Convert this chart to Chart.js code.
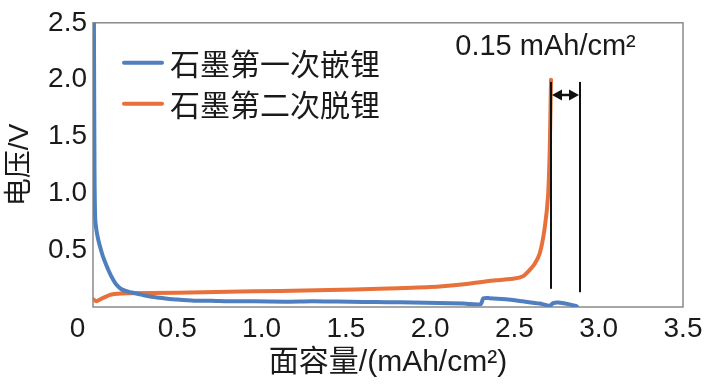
<!DOCTYPE html>
<html>
<head>
<meta charset="utf-8">
<script src="https://cdn.jsdelivr.net/npm/chart.js@4"></script>
<style>
  html, body { margin: 0; padding: 0; background: #fff; }
  canvas { display: block; }
</style>
</head>
<body>
<canvas id="chart" width="709" height="389"></canvas>
<script>
// first lithiation (blue)
const firstX = [0.005, 0.009, 0.013, 0.02, 0.03, 0.042, 0.06, 0.081, 0.105, 0.13, 0.15, 0.17, 0.2, 0.23, 0.27, 0.31, 0.37, 0.43, 0.5, 0.6, 0.7, 0.8, 0.95, 1.14, 1.3, 1.45, 1.6, 1.75, 1.9, 2.05, 2.2, 2.3, 2.315, 2.35, 2.45, 2.55, 2.65, 2.71, 2.73, 2.76, 2.82, 2.87];
const firstY = [2.7, 1.2, 0.78, 0.68, 0.6, 0.53, 0.44, 0.36, 0.28, 0.215, 0.18, 0.155, 0.14, 0.127, 0.115, 0.1, 0.085, 0.075, 0.065, 0.055, 0.055, 0.05, 0.05, 0.046, 0.05, 0.048, 0.045, 0.042, 0.04, 0.035, 0.03, 0.025, 0.075, 0.078, 0.069, 0.05, 0.03, 0.011, 0.035, 0.04, 0.025, 0.006];

// second delithiation (orange)
const secondX = [0.0, 0.02, 0.06, 0.11, 0.2, 0.5, 0.8, 1.11, 1.4, 1.7, 2.0, 2.2, 2.39, 2.5, 2.55, 2.58, 2.62, 2.65, 2.68, 2.7, 2.71, 2.717];
const secondY = [0.07, 0.05, 0.08, 0.11, 0.12, 0.125, 0.135, 0.14, 0.15, 0.16, 0.175, 0.2, 0.235, 0.25, 0.27, 0.31, 0.38, 0.47, 0.7, 0.99, 1.42, 2.0];

const seriesLabels = ["石墨第一次嵌锂", "石墨第二次脱锂"];
const seriesColors = ["#4F7FBF", "#E8703A"];

const xTicks = [0, 0.5, 1.0, 1.5, 2.0, 2.5, 3.0, 3.5];
const yTicks = [0, 0.5, 1.0, 1.5, 2.0, 2.5];

// gap marker between end of delithiation and end of lithiation
const markerX = [2.717, 2.889];
const markerTop = [1.98, 1.98];
const markerBottom = [0.16, 0.13];
const markerArrowY = 1.865;
const markerNote = "0.15 mAh/cm²";
const markerNoteY = 2.22;

const FONT_LATIN = "Liberation Sans, Arial, Noto Sans CJK SC, sans-serif";
const FONT_CJK = "Noto Sans CJK SC, sans-serif";
const TEXT_COLOR = "#1a1a1a";

const toPoints = (xs, ys) => xs.map((x, i) => ({ x: x, y: ys[i] }));

const chartAreaBorder = {
  id: "chartAreaBorder",
  beforeDatasetsDraw(chart, args, options) {
    const { ctx, chartArea: { left, top, width, height } } = chart;
    ctx.save();
    ctx.strokeStyle = options.borderColor;
    ctx.lineWidth = options.borderWidth;
    ctx.strokeRect(left, top, width, height);
    ctx.restore();
  },
};

const legendLines = {
  id: "legendLines",
  afterDraw(chart) {
    const { ctx, chartArea: { left, top } } = chart;
    ctx.save();
    chart.data.datasets.forEach((ds, i) => {
      const y = top + 40 + i * 41;
      ctx.strokeStyle = ds.borderColor;
      ctx.lineWidth = 4;
      ctx.lineCap = "round";
      ctx.beginPath();
      ctx.moveTo(left + 31, y);
      ctx.lineTo(left + 69, y);
      ctx.stroke();
      ctx.fillStyle = TEXT_COLOR;
      ctx.font = "30px " + FONT_CJK;
      ctx.textBaseline = "middle";
      ctx.textAlign = "left";
      ctx.fillText(ds.label, left + 77, y + 1);
    });
    ctx.restore();
  },
};

const gapMarker = {
  id: "gapMarker",
  afterDatasetsDraw(chart) {
    const { ctx, scales: { x, y } } = chart;
    ctx.save();
    ctx.strokeStyle = "#111";
    ctx.fillStyle = "#111";
    ctx.lineWidth = 2;
    markerX.forEach((mx, i) => {
      const px = x.getPixelForValue(mx);
      ctx.beginPath();
      ctx.moveTo(px, y.getPixelForValue(markerTop[i]));
      ctx.lineTo(px, y.getPixelForValue(markerBottom[i]));
      ctx.stroke();
    });
    const x1 = x.getPixelForValue(markerX[0]) + 1;
    const x2 = x.getPixelForValue(markerX[1]) - 1;
    const ay = y.getPixelForValue(markerArrowY);
    ctx.lineWidth = 2.5;
    ctx.beginPath();
    ctx.moveTo(x1 + 6, ay);
    ctx.lineTo(x2 - 6, ay);
    ctx.stroke();
    [[x1, 1], [x2, -1]].forEach(([hx, dir]) => {
      ctx.beginPath();
      ctx.moveTo(hx, ay);
      ctx.lineTo(hx + dir * 10, ay - 5.5);
      ctx.lineTo(hx + dir * 10, ay + 5.5);
      ctx.closePath();
      ctx.fill();
    });
    ctx.font = "29px " + FONT_LATIN;
    ctx.textAlign = "center";
    ctx.textBaseline = "alphabetic";
    ctx.fillStyle = TEXT_COLOR;
    ctx.fillText(markerNote, (x1 + x2) / 2 - 20, y.getPixelForValue(markerNoteY));
    ctx.restore();
  },
};

const fmt = (v) => (v === 0 ? "0" : v.toFixed(1));

new Chart(document.getElementById("chart"), {
  type: "line",
  data: {
    datasets: [
      {
        label: seriesLabels[0],
        data: toPoints(firstX, firstY),
        borderColor: seriesColors[0],
        backgroundColor: seriesColors[0],
        borderWidth: 4,
        pointRadius: 0,
        tension: 0.2,
        borderCapStyle: "round",
        borderJoinStyle: "round",
      },
      {
        label: seriesLabels[1],
        data: toPoints(secondX, secondY),
        borderColor: seriesColors[1],
        backgroundColor: seriesColors[1],
        borderWidth: 4,
        pointRadius: 0,
        tension: 0.2,
        borderCapStyle: "round",
        borderJoinStyle: "round",
      },
    ],
  },
  options: {
    responsive: false,
    animation: false,
    events: [],
    layout: { padding: { top: 18, right: 26, left: 0, bottom: 0 } },
    scales: {
      x: {
        type: "linear",
        min: xTicks[0],
        max: xTicks[xTicks.length - 1],
        grid: { display: false, drawTicks: false },
        border: { display: false },
        afterBuildTicks: (scale) => {
          scale.ticks = xTicks.map((v) => ({ value: v }));
        },
        afterFit: (scale) => {
          scale.height = 82;
        },
        ticks: {
          padding: 5,
          color: TEXT_COLOR,
          font: { size: 28, family: FONT_LATIN },
          maxRotation: 0,
          callback: (v) => (v === 0 ? "0    " : fmt(v)),
        },
        title: {
          display: true,
          text: "面容量/(mAh/cm²)",
          color: TEXT_COLOR,
          font: { size: 30, family: FONT_LATIN },
          padding: { top: 0, bottom: 8 },
        },
      },
      y: {
        type: "linear",
        min: yTicks[0],
        max: yTicks[yTicks.length - 1],
        grid: { display: false, drawTicks: false },
        border: { display: false },
        afterBuildTicks: (scale) => {
          scale.ticks = yTicks.map((v) => ({ value: v }));
        },
        afterFit: (scale) => {
          scale.width = 93;
        },
        ticks: {
          padding: 6,
          color: TEXT_COLOR,
          font: { size: 28, family: FONT_LATIN },
          callback: (v) => (v === 0 ? "" : fmt(v)),
        },
        title: {
          display: true,
          text: "电压/V",
          color: TEXT_COLOR,
          font: { size: 28, family: FONT_LATIN },
          padding: { top: 3, bottom: 0 },
        },
      },
    },
    plugins: {
      legend: { display: false },
      tooltip: { enabled: false },
      chartAreaBorder: { borderColor: "#8a8a8a", borderWidth: 1.5 },
    },
  },
  plugins: [chartAreaBorder, gapMarker, legendLines],
});
</script>
</body>
</html>
